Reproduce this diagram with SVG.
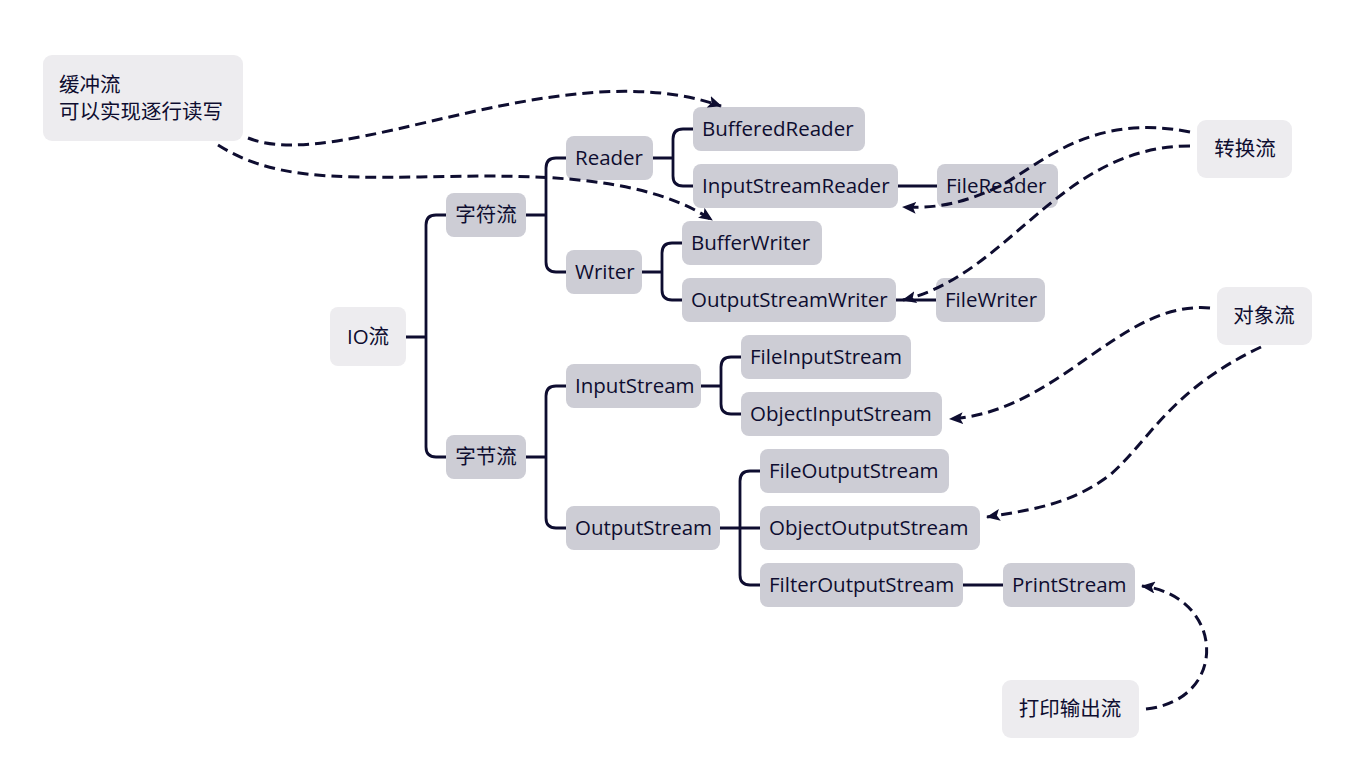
<svg xmlns="http://www.w3.org/2000/svg" width="1356" height="770" viewBox="0 0 1356 770">
<defs>
<style>
.n rect{fill:#cdcdd5}
.c rect{fill:#edecef}
text{font-family:"Open Sans","Noto Sans CJK SC",sans-serif;font-size:20.5px;fill:#0e0d30}
.tree path{fill:none;stroke:#0e0d30;stroke-width:2.8;stroke-linecap:round;stroke-linejoin:round}
.dash path{fill:none;stroke:#0e0d30;stroke-width:3;stroke-dasharray:11 6;marker-end:url(#ah)}
</style>
<marker id="ah" viewBox="0 0 14 12" refX="13" refY="6" markerWidth="14" markerHeight="12" markerUnits="userSpaceOnUse" orient="auto">
<path d="M0,0 L14,6 L0,12 L3,6 Z" fill="#0e0d30"/>
</marker>
</defs>
<rect width="1356" height="770" fill="#ffffff"/>
<g id="tree-connectors" class="tree">
<path d="M406,337 H426 M446,215 H436 Q426,215 426,225 V447 Q426,457 436,457 H446"/>
<path d="M526,215 H546 M566,158 H556 Q546,158 546,168 V262 Q546,272 556,272 H566"/>
<path d="M653,158 H673 M693,129 H683 Q673,129 673,139 V176 Q673,186 683,186 H693"/>
<path d="M642,272 H662 M682,243 H672 Q662,243 662,253 V290 Q662,300 672,300 H682"/>
<path d="M898,186 H937"/>
<path d="M896,300 H936"/>
<path d="M526,457 H546 M566,386 H556 Q546,386 546,396 V518 Q546,528 556,528 H566"/>
<path d="M701,386 H721 M741,357 H731 Q721,357 721,367 V404 Q721,414 731,414 H741"/>
<path d="M720,528 H760 M760,471 H750 Q740,471 740,481 V575 Q740,585 750,585 H760"/>
<path d="M963,585 H1003"/>
</g>
<g id="io" class="c"><rect x="330" y="307" width="76" height="59" rx="8"/><text x="368" y="344" text-anchor="middle">IO流</text></g>
<g id="zifu" class="n"><rect x="446" y="193" width="80" height="44" rx="8"/><text x="486" y="222" text-anchor="middle">字符流</text></g>
<g id="zijie" class="n"><rect x="446" y="435" width="80" height="44" rx="8"/><text x="486" y="464" text-anchor="middle">字节流</text></g>
<g id="reader" class="n"><rect x="566" y="136" width="87" height="44" rx="8"/><text x="575" y="165">Reader</text></g>
<g id="writer" class="n"><rect x="566" y="250" width="76" height="44" rx="8"/><text x="575" y="279">Writer</text></g>
<g id="bufferedreader" class="n"><rect x="693" y="107" width="172" height="44" rx="8"/><text x="702" y="136">BufferedReader</text></g>
<g id="inputstreamreader" class="n"><rect x="693" y="164" width="205" height="44" rx="8"/><text x="702" y="193">InputStreamReader</text></g>
<g id="filereader" class="n"><rect x="937" y="164" width="121" height="44" rx="8"/><text x="946" y="193">FileReader</text></g>
<g id="bufferwriter" class="n"><rect x="682" y="221" width="140" height="44" rx="8"/><text x="691" y="250">BufferWriter</text></g>
<g id="outputstreamwriter" class="n"><rect x="682" y="278" width="214" height="44" rx="8"/><text x="691" y="307">OutputStreamWriter</text></g>
<g id="filewriter" class="n"><rect x="936" y="278" width="109" height="44" rx="8"/><text x="945" y="307">FileWriter</text></g>
<g id="inputstream" class="n"><rect x="566" y="364" width="135" height="44" rx="8"/><text x="575" y="393">InputStream</text></g>
<g id="fileinputstream" class="n"><rect x="741" y="335" width="170" height="44" rx="8"/><text x="750" y="364">FileInputStream</text></g>
<g id="objectinputstream" class="n"><rect x="741" y="392" width="201" height="44" rx="8"/><text x="750" y="421">ObjectInputStream</text></g>
<g id="outputstream" class="n"><rect x="566" y="506" width="154" height="44" rx="8"/><text x="575" y="535">OutputStream</text></g>
<g id="fileoutputstream" class="n"><rect x="760" y="449" width="189" height="44" rx="8"/><text x="769" y="478">FileOutputStream</text></g>
<g id="objectoutputstream" class="n"><rect x="760" y="506" width="220" height="44" rx="8"/><text x="769" y="535">ObjectOutputStream</text></g>
<g id="filteroutputstream" class="n"><rect x="760" y="563" width="203" height="44" rx="8"/><text x="769" y="592">FilterOutputStream</text></g>
<g id="printstream" class="n"><rect x="1003" y="563" width="132" height="44" rx="8"/><text x="1012" y="592">PrintStream</text></g>
<g id="huanchong" class="c"><rect x="43" y="55" width="200" height="86" rx="9"/><text x="59" y="92">缓冲流</text><text x="59" y="119">可以实现逐行读写</text></g>
<g id="zhuanhuan" class="c"><rect x="1197" y="120" width="95" height="58" rx="9"/><text x="1245" y="156" text-anchor="middle">转换流</text></g>
<g id="duixiang" class="c"><rect x="1217" y="287" width="95" height="58" rx="9"/><text x="1264" y="323" text-anchor="middle">对象流</text></g>
<g id="dayin" class="c"><rect x="1002" y="680" width="137" height="58" rx="9"/><text x="1070" y="716" text-anchor="middle">打印输出流</text></g>
<g id="dashed-connectors" class="dash">
<path d="M248,138 C340,175 560,50 721,106"/>
<path d="M218,145 C270,178 330,178 420,177 C520,175 640,172 712,220"/>
<path d="M1190,132 C1090,112 1040,165 1000,186 C965,203 935,209 903,207"/>
<path d="M1190,146 C1060,146 1010,275 903,300"/>
<path d="M1210,308 C1120,300 1060,412 950,419"/>
<path d="M1261,347 C1170,390 1150,440 1110,475 C1070,505 1030,510 987,517"/>
<path d="M1146,709 C1230,700 1225,596 1142,586"/>
</g>
</svg>
